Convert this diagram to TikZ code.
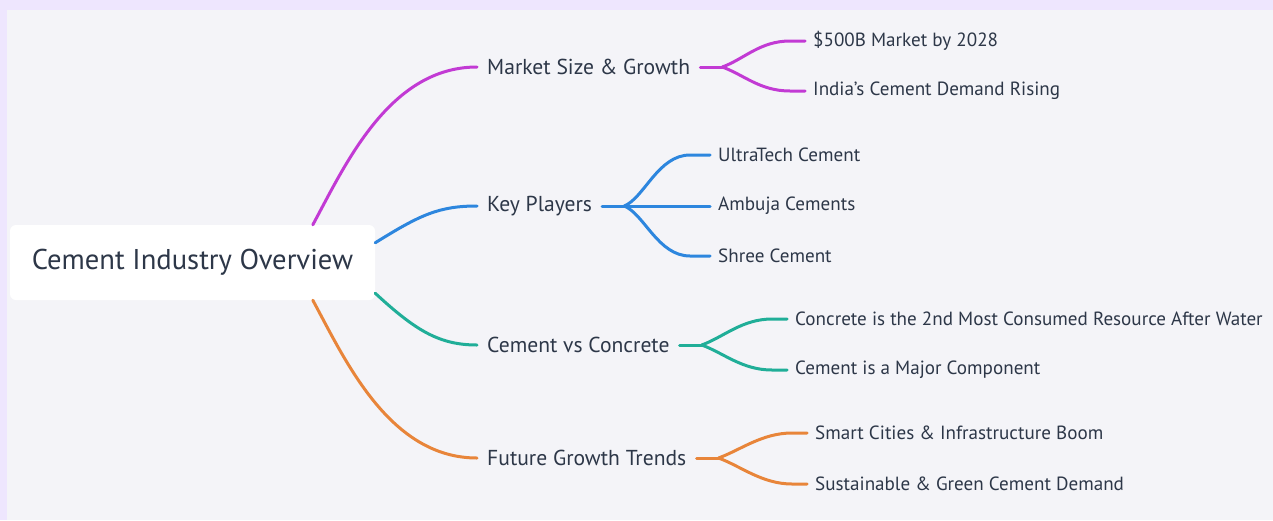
\documentclass[tikz,border=0pt]{standalone}
\usepackage{fontspec}
\setmainfont{PT Sans}
\usetikzlibrary{calc}
\definecolor{cmag}{RGB}{194,58,212}
\definecolor{cblue}{RGB}{45,134,222}
\definecolor{cteal}{RGB}{32,174,152}
\definecolor{corange}{RGB}{232,133,58}
\definecolor{ctext}{RGB}{45,55,72}
\definecolor{cpanel}{RGB}{244,244,248}
\definecolor{clav}{RGB}{238,230,254}
\begin{document}
\begin{tikzpicture}[x=1pt,y=-1pt,
  rootbox/.style={fill=white,rounded corners=6pt,minimum width=365pt,minimum height=75pt,inner sep=0pt,text=ctext,font=\fontsize{28.6}{32}\selectfont},
  lvone/.style={anchor=west,inner xsep=10pt,inner ysep=0pt,text=ctext,font=\fontsize{21.6}{25}\selectfont},
  leaf/.style={anchor=west,inner xsep=8pt,inner ysep=0pt,text=ctext,font=\fontsize{19.1}{22}\selectfont},
  link/.style={line width=3pt,line cap=round}]
\useasboundingbox (0,0) rectangle (1273,520);
\fill[clav] (0,0) rectangle (1273,520);
\fill[cpanel] (7,10) rectangle (1273,520);
% root
\node[rootbox] (root) at (192.5,262.5) {Cement Industry Overview};
% level one
\node[lvone] (m) at (477,67) {Market Size \& Growth};
\node[lvone] (k) at (477,206) {Key Players};
\node[lvone] (c) at (477,345) {Cement vs Concrete};
\node[lvone] (f) at (477,458) {Future Growth Trends};
% leaves
\node[leaf] (m1) at (805,41) {\$500B Market by 2028};
\node[leaf] (m2) at (805,91) {India's Cement Demand Rising};
\node[leaf] (k1) at (710,155) {UltraTech Cement};
\node[leaf] (k2) at (710,206) {Ambuja Cements};
\node[leaf] (k3) at (710,256) {Shree Cement};
\node[leaf] (c1) at (787,319) {Concrete is the 2nd Most Consumed Resource After Water};
\node[leaf] (c2) at (787,370) {Cement is a Major Component};
\node[leaf] (f1) at (807,433) {Smart Cities \& Infrastructure Boom};
\node[leaf] (f2) at (807,484) {Sustainable \& Green Cement Demand};
% root links
\draw[link,cmag] ($(root.north west)+(303,0)$) .. controls +(32,-59) and +(-88,0) .. (m.west);
\draw[link,cblue] ($(root.north east)+(0,18)$) .. controls +(45,-28) and +(-38,0) .. (k.west);
\draw[link,cteal] ($(root.south east)+(0,-7)$) .. controls +(40,37) and +(-38,0) .. (c.west);
\draw[link,corange] ($(root.south west)+(303,0)$) .. controls +(32,59) and +(-88,0) .. (f.west);
% forks
\coordinate (mf) at ($(m.east)+(22,0)$);
\coordinate (kf) at ($(k.east)+(22,0)$);
\coordinate (cf) at ($(c.east)+(22,0)$);
\coordinate (ff) at ($(f.east)+(22,0)$);
\draw[link,cmag] (m.east) -- (mf);
\draw[link,cmag] (mf) .. controls +(22,-8) and +(-30,0) .. ($(m1.west)+(-15,0)$) -- (m1.west);
\draw[link,cmag] (mf) .. controls +(22,8) and +(-30,0) .. ($(m2.west)+(-15,0)$) -- (m2.west);
\draw[link,cblue] (k.east) -- (kf);
\draw[link,cblue] (kf) .. controls +(20,-8) and +(-32,0) .. ($(k1.west)+(-20,0)$) -- (k1.west);
\draw[link,cblue] (kf) -- (k2.west);
\draw[link,cblue] (kf) .. controls +(20,8) and +(-32,0) .. ($(k3.west)+(-20,0)$) -- (k3.west);
\draw[link,cteal] (c.east) -- (cf);
\draw[link,cteal] (cf) .. controls +(22,-8) and +(-30,0) .. ($(c1.west)+(-15,0)$) -- (c1.west);
\draw[link,cteal] (cf) .. controls +(22,8) and +(-30,0) .. ($(c2.west)+(-15,0)$) -- (c2.west);
\draw[link,corange] (f.east) -- (ff);
\draw[link,corange] (ff) .. controls +(22,-8) and +(-30,0) .. ($(f1.west)+(-15,0)$) -- (f1.west);
\draw[link,corange] (ff) .. controls +(22,8) and +(-30,0) .. ($(f2.west)+(-15,0)$) -- (f2.west);
\end{tikzpicture}
\end{document}
